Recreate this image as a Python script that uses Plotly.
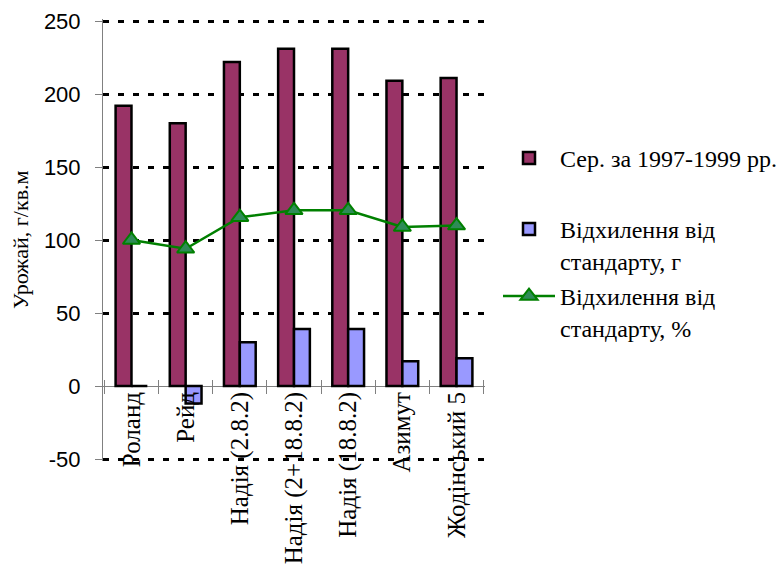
import plotly.graph_objects as go

categories = ["Роланд", "Рейд", "Надія (2.8.2)", "Надія (2+18.8.2)",
              "Надія (18.8.2)", "Азимут", "Жодінський 5"]
avg_yield = [192, 180, 222, 231, 231, 209, 211]
dev_g = [0, -12, 30, 39, 39, 17, 19]
dev_pct = [100, 94, 115.6, 120.3, 120.3, 108.9, 109.9]
y_ticks = [-50, 0, 50, 100, 150, 200, 250]
y_ticktext = ["-50", "0", "50", "100", "150", "200", "250"]
y_title = "Урожай, г/кв.м"

name_avg = "Сер. за 1997-1999 рр."
name_g = "Відхилення від<br>стандарту, г"
name_pct = "Відхилення від<br>стандарту, %"

W, H = 779, 567
# pixel positions of the plot frame
x_left, x_right = 103, 485
y_top_val, y_bot_val = 21, 459      # pixel rows of 250 and -50
pad = 2
ymin, ymax = -50, 250
ppu = (y_bot_val - y_top_val) / (ymax - ymin)
rng = [ymin - pad / ppu, ymax + pad / ppu]
L, R = x_left, W - x_right
T, B = y_top_val - pad, H - y_bot_val - pad
pw, ph = W - L - R, H - T - B

def px_x(px):
    return (px - L) / pw

def px_y(py):
    return (H - B - py) / ph

zero_px = y_bot_val - (0 - ymin) * ppu
tick_half = 7
axis_pos = px_y(zero_px - tick_half)

serif = "Liberation Serif"
sans = "Liberation Sans"

fig = go.Figure()
fig.add_trace(go.Bar(x=categories, y=avg_yield, name=name_avg,
                     marker=dict(color="#993366", line=dict(color="black", width=2.5)),
                     legend="legend"))
fig.add_trace(go.Bar(x=categories, y=dev_g, name=name_g,
                     marker=dict(color="#9999FF", line=dict(color="black", width=2.5)),
                     legend="legend2"))
fig.add_trace(go.Scatter(x=categories, y=dev_pct, name=name_pct, mode="lines+markers",
                         line=dict(color="#008000", width=2.5),
                         marker=dict(symbol="triangle-up", size=15, color="#2E8B57",
                                     line=dict(color="#008000", width=2)),
                         legend="legend3"))

leg_common = dict(font=dict(family=serif, size=24, color="black"),
                  bgcolor="rgba(0,0,0,0)", borderwidth=0, xanchor="left",
                  yanchor="top", itemwidth=52, valign="top", itemclick=False)

fig.add_annotation(text=y_title, xref="paper", yref="paper",
                   x=px_x(20), y=px_y((y_top_val + y_bot_val) / 2),
                   xanchor="center", yanchor="middle", textangle=-90, showarrow=False,
                   font=dict(family=serif, size=22, color="black"))

fig.update_layout(
    width=W, height=H,
    font=dict(family=serif, color="black"),
    showlegend=True,
    margin=dict(l=L, r=R, t=T, b=B, autoexpand=False),
    paper_bgcolor="white", plot_bgcolor="white",
    barmode="group", bargap=0.414, bargroupgap=0,
    legend=dict(x=px_x(498), y=px_y(136), **leg_common),
    legend2=dict(x=px_x(498), y=px_y(207), **leg_common),
    legend3=dict(x=px_x(498), y=px_y(274), **leg_common),
    xaxis=dict(
        type="category", categoryorder="array", categoryarray=categories,
        anchor="free", position=axis_pos,
        tickson="boundaries", ticks="outside", ticklen=2 * tick_half, tickcolor="#808080",
        tickwidth=1, tickangle=-90, ticklabelstandoff=7,
        tickfont=dict(family=serif, size=25, color="black"),
        showline=False, showgrid=False, zeroline=False, automargin=False,
    ),
    yaxis=dict(
        range=rng, tickmode="array", tickvals=y_ticks, ticktext=y_ticktext,
        ticks="outside", ticklen=7, tickcolor="#808080", tickwidth=1,
        showline=True, linecolor="#808080", linewidth=1,
        showgrid=True, gridcolor="black", gridwidth=3, griddash="6px,9px",
        zeroline=True, zerolinecolor="#808080", zerolinewidth=1,
        tickfont=dict(family=sans, size=22, color="black"),
        ticklabelstandoff=10,
        automargin=False,
    ),
)

fig.write_html("out.html", config={"displayModeBar": False},
               post_script="document.body.style.margin='0';document.body.style.overflow='hidden';")
